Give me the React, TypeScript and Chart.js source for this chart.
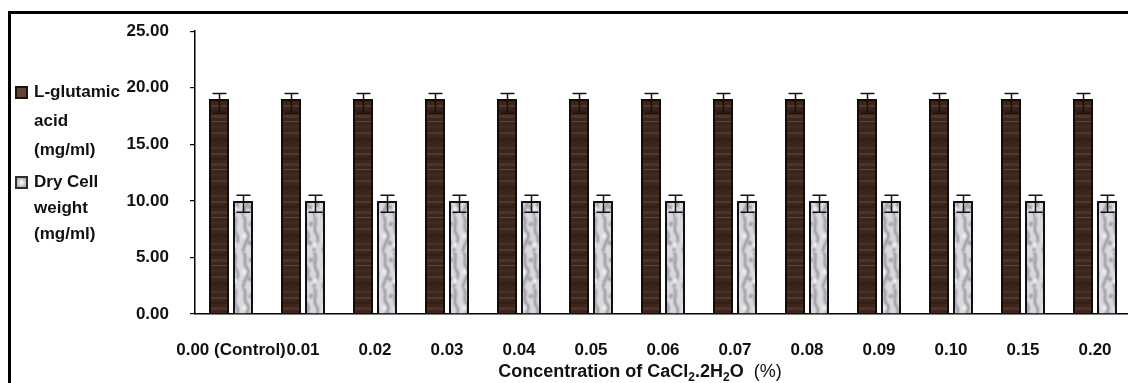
import React, { useEffect, useRef } from "react";
import { Chart, registerables } from "chart.js";

Chart.register(...registerables);

// CaCl2.2H2O concentrations (%)
const categories = [
  "0.00 (Control)", "0.01", "0.02", "0.03", "0.04", "0.05", "0.06",
  "0.07", "0.08", "0.09", "0.10", "0.15", "0.20",
];

// L-glutamic acid yield (mg/ml) and its error range
const glutamicAcid = [19.0, 19.0, 19.0, 19.0, 19.0, 19.0, 19.0, 19.0, 19.0, 19.0, 19.0, 19.0, 19.0];
const glutamicErrPlus = [0.5, 0.5, 0.5, 0.5, 0.5, 0.5, 0.5, 0.5, 0.5, 0.5, 0.5, 0.5, 0.5];
const glutamicErrMinus = [1.25, 1.25, 1.25, 1.25, 1.25, 1.25, 1.25, 1.25, 1.25, 1.25, 1.25, 1.25, 1.25];

// Dry cell weight (mg/ml) and its error range
const dryCellWeight = [10.0, 10.0, 10.0, 10.0, 10.0, 10.0, 10.0, 10.0, 10.0, 10.0, 10.0, 10.0, 10.0];
const dryErrPlus = [0.5, 0.5, 0.5, 0.5, 0.5, 0.5, 0.5, 0.5, 0.5, 0.5, 0.5, 0.5, 0.5];
const dryErrMinus = [1.0, 1.0, 1.0, 1.0, 1.0, 1.0, 1.0, 1.0, 1.0, 1.0, 1.0, 1.0, 1.0];

const yTicks = [0, 5, 10, 15, 20, 25];

const legendLinesGlutamic = ["L-glutamic", "acid", "(mg/ml)"];
const legendLinesDry = ["Dry Cell", "weight", "(mg/ml)"];

const FONT = '"Liberation Sans", Arial, sans-serif';
const W = 1140;
const H = 383;

// Dark wood-grain fill for the L-glutamic acid bars
function woodPattern(ctx: CanvasRenderingContext2D): CanvasPattern | string {
  const c = document.createElement("canvas");
  c.width = 24;
  c.height = 48;
  const g = c.getContext("2d");
  if (!g) return "#3a2619";
  g.fillStyle = "#3a261b";
  g.fillRect(0, 0, 24, 48);
  const bands: [number, number, string][] = [
    [3, 2, "#4a3325"], [9, 2, "#523829"], [14, 2, "#30201a"], [19, 3, "#4d3427"],
    [25, 1, "#5e4431"], [30, 2, "#3f2a1f"], [36, 2, "#4f3628"], [42, 3, "#32211a"],
  ];
  for (const [y, h, col] of bands) {
    g.fillStyle = col;
    g.fillRect(0, y, 24, h);
  }
  return ctx.createPattern(c, "repeat") || "#3a2619";
}

// Light grey mottled fill for the dry cell weight bars
function marblePattern(ctx: CanvasRenderingContext2D): CanvasPattern | string {
  const c = document.createElement("canvas");
  c.width = 20;
  c.height = 36;
  const g = c.getContext("2d");
  if (!g) return "#d0d0d4";
  g.fillStyle = "#d9d9de";
  g.fillRect(0, 0, 20, 36);
  g.filter = "blur(1px)";
  g.strokeStyle = "#85858d";
  g.lineWidth = 2;
  g.beginPath();
  g.moveTo(3, 0);
  g.bezierCurveTo(9, 5, 1, 10, 7, 16);
  g.bezierCurveTo(12, 21, 3, 27, 3, 36);
  g.moveTo(14, 0);
  g.bezierCurveTo(19, 7, 11, 12, 17, 19);
  g.bezierCurveTo(21, 25, 13, 30, 14, 36);
  g.stroke();
  g.fillStyle = "#9a9aa2";
  g.beginPath();
  g.ellipse(10, 27, 3, 2, 0.5, 0, Math.PI * 2);
  g.ellipse(11, 8, 2.5, 2, -0.4, 0, Math.PI * 2);
  g.fill();
  g.fillStyle = "#f2f2f4";
  g.beginPath();
  g.ellipse(15, 29, 2.5, 3, 0, 0, Math.PI * 2);
  g.ellipse(4, 20, 2, 2.5, 0, 0, Math.PI * 2);
  g.fill();
  g.filter = "none";
  return ctx.createPattern(c, "repeat") || "#d0d0d4";
}

const errorBarsPlugin = {
  id: "errorBars",
  afterDatasetsDraw(chart: any) {
    const { ctx } = chart;
    const y = chart.scales.y;
    const sets = [
      { plus: glutamicErrPlus, minus: glutamicErrMinus, vals: glutamicAcid },
      { plus: dryErrPlus, minus: dryErrMinus, vals: dryCellWeight },
    ];
    ctx.save();
    ctx.strokeStyle = "#111";
    ctx.lineWidth = 1.5;
    sets.forEach((s, di) => {
      const meta = chart.getDatasetMeta(di);
      meta.data.forEach((bar: any, i: number) => {
        const x = Math.round(bar.x) + 0.5;
        const top = y.getPixelForValue(s.vals[i] + s.plus[i]);
        const bot = y.getPixelForValue(s.vals[i] - s.minus[i]);
        const cap = 7;
        ctx.beginPath();
        ctx.moveTo(x, top);
        ctx.lineTo(x, bot);
        ctx.moveTo(x - cap, top);
        ctx.lineTo(x + cap, top);
        ctx.moveTo(x - cap, bot);
        ctx.lineTo(x + cap, bot);
        ctx.stroke();
      });
    });
    ctx.restore();
  },
};

const decorPlugin = {
  id: "decor",
  afterDraw(chart: any) {
    const { ctx } = chart;
    ctx.save();

    // outer frame
    ctx.strokeStyle = "#000";
    ctx.lineWidth = 3;
    ctx.beginPath();
    ctx.moveTo(9.5, H + 5);
    ctx.lineTo(9.5, 12.5);
    ctx.lineTo(W + 5, 12.5);
    ctx.stroke();

    // legend
    const boxX = 15;
    const textX = 34;
    const drawBlock = (lines: string[], y0: number, gap: number, kind: number) => {
      const bs = 13;
      const by = Math.round(y0 - bs / 2);
      if (kind === 0) {
        ctx.fillStyle = "#1e130d";
        ctx.fillRect(boxX, by, bs, bs);
        ctx.fillStyle = "#5d4434";
        ctx.fillRect(boxX + 2, by + 2, bs - 4, bs - 4);
      } else {
        ctx.fillStyle = "#2e2e2e";
        ctx.fillRect(boxX, by, bs, bs);
        const gr = ctx.createRadialGradient(boxX + bs / 2, by + bs / 2, 0, boxX + bs / 2, by + bs / 2, bs / 2);
        gr.addColorStop(0, "#ffffff");
        gr.addColorStop(1, "#9d9da3");
        ctx.fillStyle = gr;
        ctx.fillRect(boxX + 2, by + 2, bs - 4, bs - 4);
      }
      ctx.fillStyle = "#111";
      ctx.font = `bold 17px ${FONT}`;
      ctx.textAlign = "left";
      ctx.textBaseline = "middle";
      lines.forEach((t, i) => ctx.fillText(t, textX, y0 + i * gap));
    };
    drawBlock(legendLinesGlutamic, 92, 29, 0);
    drawBlock(legendLinesDry, 182, 26, 1);

    // x-axis title with subscripts
    const parts: { t: string; sub?: boolean; normal?: boolean }[] = [
      { t: "Concentration of CaCl" },
      { t: "2", sub: true },
      { t: ".2H" },
      { t: "2", sub: true },
      { t: "O  " },
      { t: "(%)", normal: true },
    ];
    const fontFor = (p: { sub?: boolean; normal?: boolean }) =>
      p.sub ? `bold 12px ${FONT}` : p.normal ? `18px ${FONT}` : `bold 18px ${FONT}`;
    let total = 0;
    parts.forEach((p) => {
      ctx.font = fontFor(p);
      total += ctx.measureText(p.t).width;
    });
    let x = 640 - total / 2;
    const base = 377;
    ctx.fillStyle = "#111";
    ctx.textBaseline = "alphabetic";
    ctx.textAlign = "left";
    parts.forEach((p) => {
      ctx.font = fontFor(p);
      ctx.fillText(p.t, x, p.sub ? base + 4 : base);
      x += ctx.measureText(p.t).width;
    });

    ctx.restore();
  },
};

export default function App() {
  const ref = useRef<HTMLCanvasElement | null>(null);

  useEffect(() => {
    const canvas = ref.current;
    if (!canvas) return;
    const ctx = canvas.getContext("2d");
    if (!ctx) return;

    const chart = new Chart(canvas, {
      type: "bar",
      data: {
        labels: categories,
        datasets: [
          {
            label: "L-glutamic acid (mg/ml)",
            data: glutamicAcid,
            backgroundColor: woodPattern(ctx),
            borderColor: "#140c08",
            borderWidth: 2,
            categoryPercentage: 0.667,
            barPercentage: 0.833,
          },
          {
            label: "Dry Cell weight (mg/ml)",
            data: dryCellWeight,
            backgroundColor: marblePattern(ctx),
            borderColor: "#111",
            borderWidth: 2,
            categoryPercentage: 0.667,
            barPercentage: 0.833,
          },
        ],
      },
      options: {
        responsive: false,
        maintainAspectRatio: false,
        animation: false,
        devicePixelRatio: 1,
        layout: { padding: { left: 120, top: 30, right: 9, bottom: 14 } },
        plugins: {
          legend: { display: false },
          tooltip: { enabled: false },
          title: { display: false },
        },
        scales: {
          x: {
            afterFit: (s: any) => {
              s.height = 55;
            },
            grid: { display: false, drawTicks: false },
            border: { display: true, color: "#000", width: 1.5 },
            ticks: {
              autoSkip: false,
              maxRotation: 0,
              minRotation: 0,
              padding: 26,
              color: "#111",
              font: { family: FONT, size: 17, weight: "bold" },
            },
          },
          y: {
            min: 0,
            max: 25,
            afterFit: (s: any) => {
              s.width = 75;
            },
            afterBuildTicks: (s: any) => {
              s.ticks = yTicks.map((v) => ({ value: v }));
            },
            grid: {
              drawOnChartArea: false,
              drawTicks: true,
              tickLength: 5,
              color: "#000",
              lineWidth: 1.2,
            },
            border: { display: true, color: "#000", width: 1.5 },
            ticks: {
              padding: 21,
              color: "#111",
              font: { family: FONT, size: 17, weight: "bold" },
              callback: (v: any) => Number(v).toFixed(2),
            },
          },
        },
      },
      plugins: [errorBarsPlugin, decorPlugin],
    });

    return () => chart.destroy();
  }, []);

  return (
    <div
      style={{
        position: "fixed",
        left: 0,
        top: 0,
        width: 1128,
        height: H,
        overflow: "hidden",
        background: "#fff",
      }}
    >
      <canvas ref={ref} width={W} height={H} style={{ width: W, height: H, display: "block" }} />
    </div>
  );
}
